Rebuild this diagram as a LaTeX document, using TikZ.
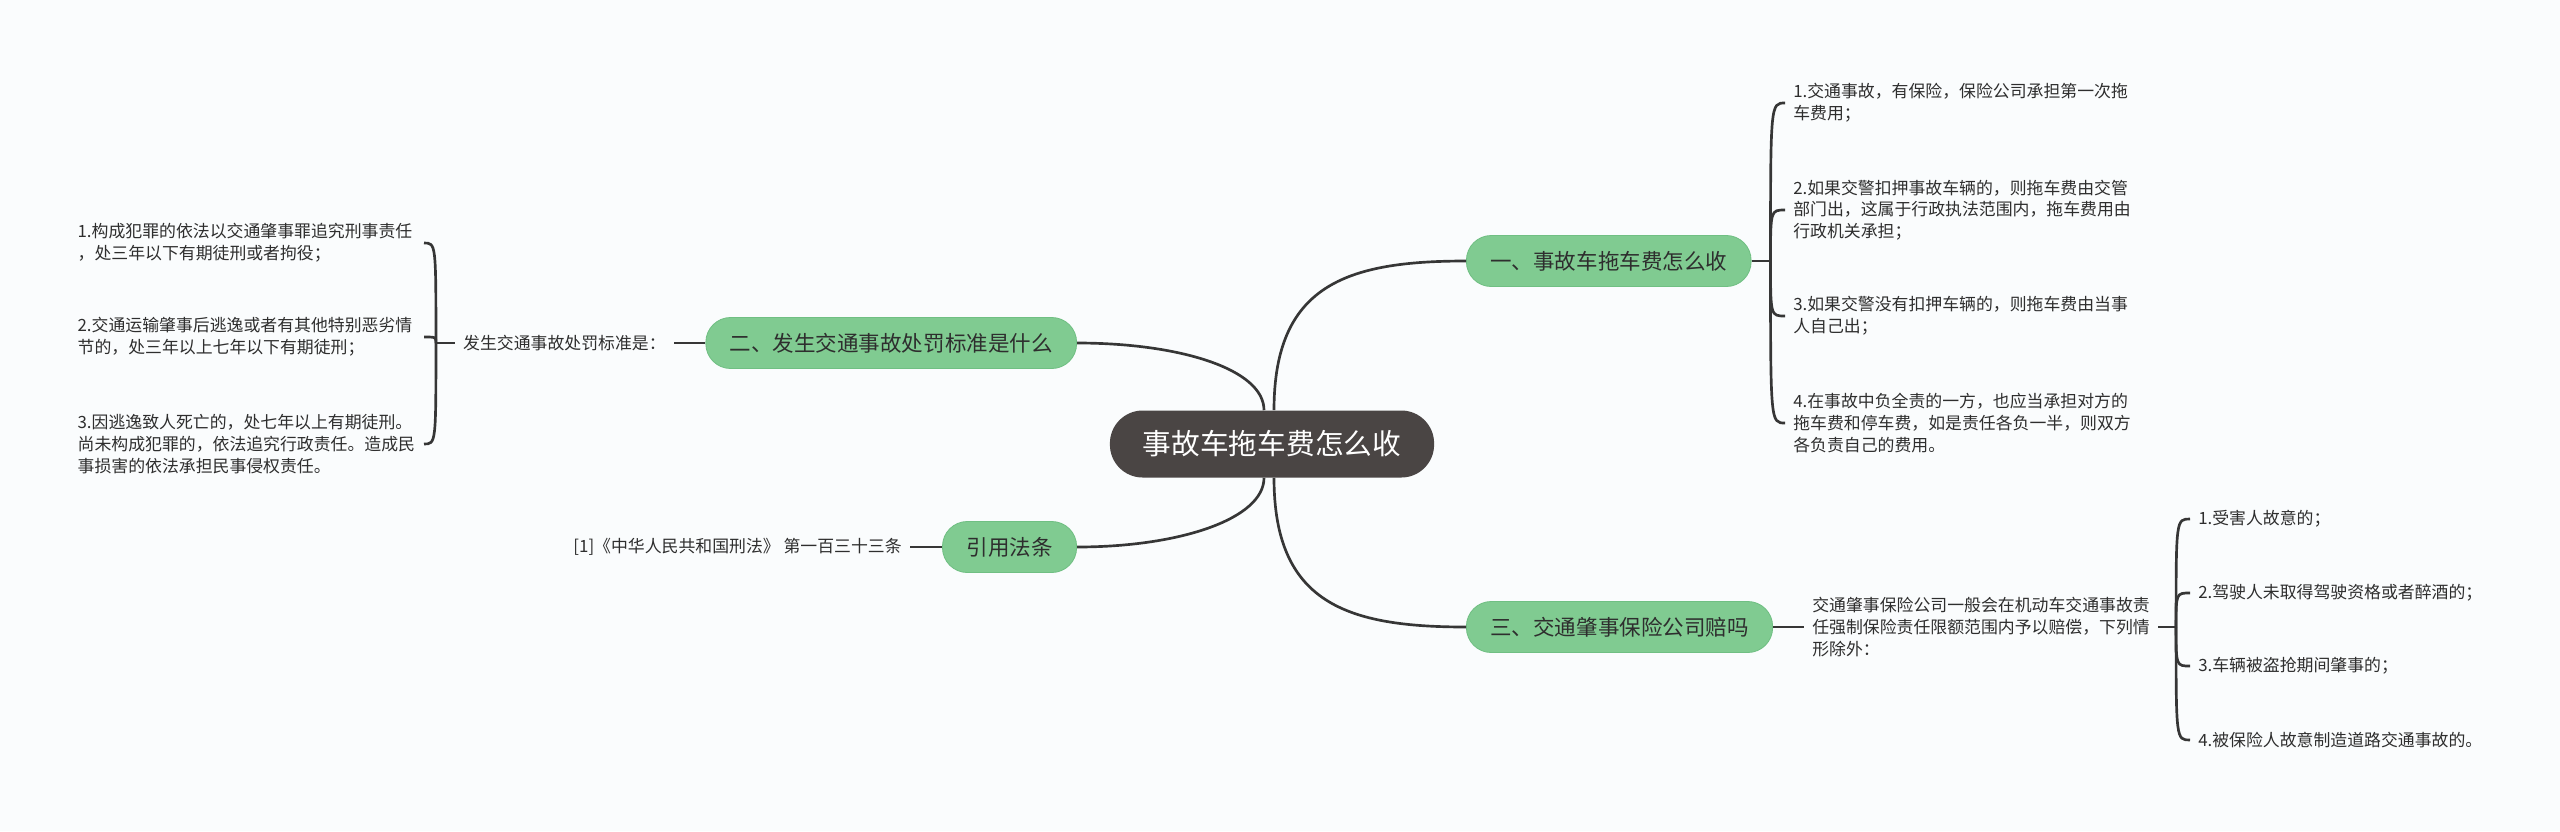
\documentclass[tikz,border=0pt]{standalone}
\usepackage{fontspec}
\setmainfont{Noto Sans CJK SC}
\usetikzlibrary{calc}
\definecolor{paper}{HTML}{FAFCFD}
\definecolor{rootgray}{HTML}{4A4544}
\definecolor{topicgreen}{HTML}{80CB91}
\definecolor{topicedge}{HTML}{70BF83}
\definecolor{linkgray}{HTML}{363636}
\definecolor{inkgray}{HTML}{2E2E2E}
\begin{document}
\begin{tikzpicture}[x=0.025cm,y=0.025cm,
  root/.style={fill=rootgray, text=white, rounded corners=0.82cm, minimum height=1.675cm, inner xsep=0.825cm, font=\fontsize{20.4}{24}\selectfont},
  topic/.style={fill=topicgreen, draw=topicedge, line width=0.6pt, text=inkgray, rounded corners=0.62cm, minimum height=1.275cm, inner xsep=0.6cm, font=\fontsize{15.3}{18}\selectfont},
  leaf/.style={text=inkgray, align=left, inner xsep=0.2cm, inner ysep=0pt, font=\fontsize{12}{15.4}\selectfont},
  link/.style={draw=linkgray, line width=1.9pt}]
\useasboundingbox[fill=paper] (0,0) rectangle (2560,-831);
\node[root] (root) at (1272,-444) {事故车拖车费怎么收};
\node[topic, anchor=west] (t1) at (1466,-261) {一、事故车拖车费怎么收};
\node[topic, anchor=east] (t2) at (1077,-343) {二、发生交通事故处罚标准是什么};
\node[topic, anchor=west] (t3) at (1466,-627) {三、交通肇事保险公司赔吗};
\node[topic, anchor=east] (t4) at (1077,-547) {引用法条};
\draw[link] ($(root.north)+(2,0)$) .. controls +(0,125) and +(-120,0) .. (t1.west);
\draw[link] ($(root.north)+(-8,0)$) .. controls +(0,41) and +(103,0) .. (t2.east);
\draw[link] ($(root.south)+(2,0)$) .. controls +(0,-125) and +(-120,0) .. (t3.west);
\draw[link] ($(root.south)+(-8,0)$) .. controls +(0,-41) and +(103,0) .. (t4.east);
% 一
\coordinate (j1) at ($(t1.east)+(19,0)$);\draw[link] (t1.east) -- (j1);
\node[leaf, anchor=west] (a1) at (1785,-103) {1.交通事故，有保险，保险公司承担第一次拖\\车费用；};
\node[leaf, anchor=west] (a2) at (1785,-210) {2.如果交警扣押事故车辆的，则拖车费由交管\\部门出，这属于行政执法范围内，拖车费用由\\行政机关承担；};
\node[leaf, anchor=west] (a3) at (1785,-316) {3.如果交警没有扣押车辆的，则拖车费由当事\\人自己出；};
\node[leaf, anchor=west] (a4) at (1785,-423) {4.在事故中负全责的一方，也应当承担对方的\\拖车费和停车费，如是责任各负一半，则双方\\各负责自己的费用。};
\foreach \n in {a1,a2,a3,a4} {\draw[link] (j1) .. controls (j1 |- \n.west) .. (\n.west);}
% 二
\node[leaf, anchor=east] (crit) at (674,-343) {发生交通事故处罚标准是：};\draw[link] (crit.east) -- (t2.west);
\coordinate (j2) at ($(crit.west)+(-19,0)$);\draw[link] (crit.west) -- (j2);
\node[leaf, anchor=east, text width=8.45cm] (b1) at (424,-243) {1.构成犯罪的依法以交通肇事罪追究刑事责任\\，处三年以下有期徒刑或者拘役；};
\node[leaf, anchor=east, text width=8.45cm] (b2) at (424,-337) {2.交通运输肇事后逃逸或者有其他特别恶劣情\\节的，处三年以上七年以下有期徒刑；};
\node[leaf, anchor=east, text width=8.45cm] (b3) at (424,-444) {3.因逃逸致人死亡的，处七年以上有期徒刑。\\尚未构成犯罪的，依法追究行政责任。造成民\\事损害的依法承担民事侵权责任。};
\foreach \n in {b1,b2,b3} {\draw[link] (j2) .. controls (j2 |- \n.east) and (j2 |- \n.east) .. (\n.east);}
% 三
\node[leaf, anchor=west] (desc) at (1804,-627) {交通肇事保险公司一般会在机动车交通事故责\\任强制保险责任限额范围内予以赔偿，下列情\\形除外：};
\draw[link] (t3.east) -- (desc.west);
\coordinate (j3) at ($(desc.east)+(18,0)$);\draw[link] (desc.east) -- (j3);
\node[leaf, anchor=west] (c1) at (2190,-519) {1.受害人故意的；};
\node[leaf, anchor=west] (c2) at (2190,-593) {2.驾驶人未取得驾驶资格或者醉酒的；};
\node[leaf, anchor=west] (c3) at (2190,-666) {3.车辆被盗抢期间肇事的；};
\node[leaf, anchor=west] (c4) at (2190,-740) {4.被保险人故意制造道路交通事故的。};
\foreach \n in {c1,c2,c3,c4} {\draw[link] (j3) .. controls (j3 |- \n.west) and (j3 |- \n.west) .. (\n.west);}
% 引用法条
\node[leaf, anchor=east] (ref) at (910,-547) {[1]《中华人民共和国刑法》 第一百三十三条};\draw[link] (ref.east) -- (t4.west);
\end{tikzpicture}
\end{document}
